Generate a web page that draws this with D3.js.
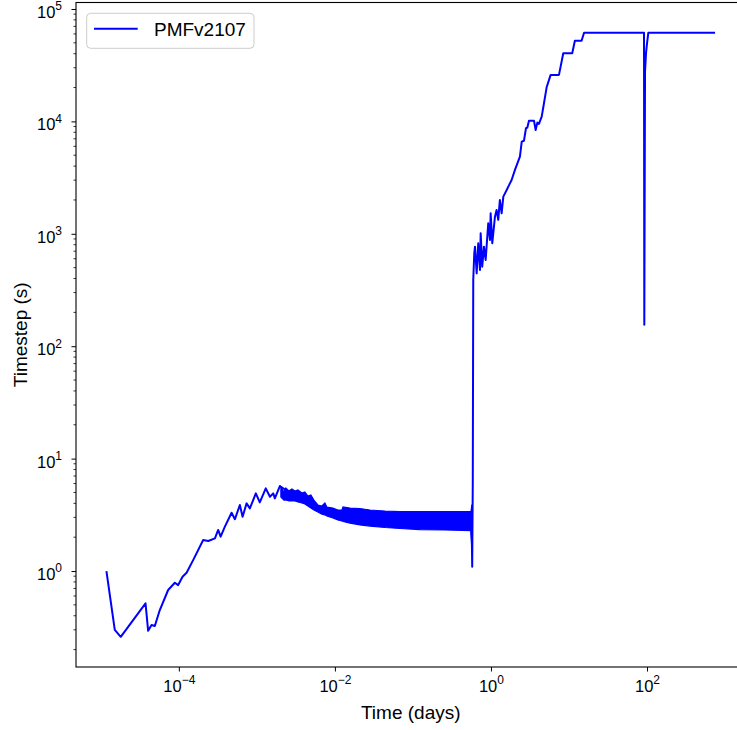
<!DOCTYPE html>
<html>
<head>
<meta charset="utf-8">
<script src="https://cdn.jsdelivr.net/npm/d3@7"></script>
<style>
  body { margin: 0; background: #fff; }
  svg { display: block; font-family: "Liberation Sans", Arial, sans-serif; }
</style>
</head>
<body>
<div id="chart"></div>
<script>
// PMFv2107 timestep history
const seriesName = "PMFv2107";

// main trace: time (days) / timestep (s)
const timeDays = [
  1.18e-5, 1.51e-5, 1.80e-5, 3.74e-5, 4.04e-5, 4.47e-5, 4.92e-5, 5.70e-5, 7.29e-5, 8.89e-5,
  9.80e-5, 1.115e-4, 1.256e-4, 1.525e-4, 2.05e-4, 2.38e-4, 2.90e-4, 3.19e-4, 3.43e-4, 3.89e-4,
  4.74e-4, 5.23e-4, 6.05e-4, 6.56e-4, 7.38e-4, 8.13e-4, 9.70e-4, 1.09e-3, 1.30e-3, 1.47e-3,
  1.62e-3, 1.70e-3, 1.97e-3,
  3.0e-3, 6.8e-3, 1.3e-2, 3.0e-2, 0.1, 0.3, 0.55, 0.570,
  0.575, 0.585, 0.593, 0.611, 0.624, 0.656, 0.687, 0.723, 0.738, 0.773,
  0.813, 0.855, 0.923, 0.971, 0.991, 1.04, 1.125, 1.18, 1.24, 1.30,
  1.37, 1.44, 1.59, 1.75, 1.84, 2.03, 2.35, 2.48, 2.65, 2.81,
  2.92, 3.07, 3.56, 3.74, 3.93, 4.12, 4.47, 4.78, 5.17, 5.82,
  7.44, 8.45, 11.0, 11.9, 14.5, 15.6, 91.5, 92.3, 94.3, 97.1,
  100, 104, 745
];
const timestep = [
  1.0, 0.30, 0.26, 0.516, 0.294, 0.331, 0.324, 0.45, 0.678, 0.787,
  0.75, 0.89, 0.966, 1.25, 1.89, 1.85, 1.95, 2.32, 2.02, 2.48,
  3.30, 2.89, 3.87, 3.04, 4.0, 3.61, 4.91, 4.08, 5.44, 4.58,
  4.91, 4.43, 5.70,
  4.7, 3.6, 3.1, 2.9, 2.85, 2.8, 2.8, 1.7,
  1.09, 6.45, 388, 670, 768, 445, 824, 476, 1010, 510,
  768, 585, 1240, 881, 1520, 824, 1420, 1630, 1330, 2000,
  1520, 2140, 2450, 2810, 3010, 3700, 4850, 6600, 6730, 8690,
  8790, 10140, 10140, 8390, 9750, 9490, 11020, 14500, 20100, 25900,
  25900, 40400, 40400, 52200, 52200, 61500, 61500, 155, 27700, 40400,
  49500, 61500, 61500
];

// dense oscillation band: upper / lower envelope of the trace
const bandTime = [
  2.03e-3, 2.22e-3, 2.35e-3, 2.57e-3, 2.81e-3, 3.07e-3, 3.36e-3, 3.78e-3, 4.12e-3, 4.51e-3,
  4.92e-3, 5.38e-3, 6.05e-3, 6.81e-3, 7.44e-3, 7.89e-3, 9.42e-3, 1.09e-2, 1.23e-2, 1.27e-2,
  1.56e-2, 2.09e-2, 2.81e-2, 4.38e-2, 6.81e-2, 0.123, 0.257, 0.554, 0.570
];
const bandHigh = [
  5.59, 5.05, 5.47, 5.15, 5.37, 5.15, 5.26, 4.94, 5.05, 4.65,
  4.75, 4.28, 3.87, 3.79, 4.03, 3.71, 3.63, 3.49, 3.49, 3.71,
  3.63, 3.60, 3.49, 3.42, 3.38, 3.37, 3.37, 3.37, 3.9
];
const bandLow = [
  4.55, 4.28, 4.28, 4.20, 4.20, 4.20, 4.11, 4.03, 3.95, 3.79,
  3.63, 3.49, 3.35, 3.21, 3.15, 3.09, 2.96, 2.85, 2.79, 2.76,
  2.67, 2.57, 2.51, 2.44, 2.39, 2.34, 2.32, 2.29, 1.70
];

const xTickValues = [1e-4, 1e-2, 1, 1e2];
const yTickValues = [1, 10, 100, 1e3, 1e4, 1e5];

const W = 737, H = 730;
const plot = { left: 76, right: 745.5, top: 2.5, bottom: 667 };

// matplotlib-style 5% padding in log space
function logPad(ext) {
  const a = Math.log10(ext[0]), b = Math.log10(ext[1]), d = (b - a) * 0.05;
  return [Math.pow(10, a - d), Math.pow(10, b + d)];
}

const x = d3.scaleLog()
    .domain(logPad(d3.extent(timeDays.concat(bandTime))))
    .range([plot.left, plot.right]);

const y = d3.scaleLog()
    .domain(logPad(d3.extent(timestep.concat(bandHigh, bandLow))))
    .range([plot.bottom, plot.top]);

const svg = d3.select("#chart").append("svg")
    .attr("width", W)
    .attr("height", H);

const clip = svg.append("clipPath").attr("id", "clip")
  .append("rect")
    .attr("x", plot.left).attr("y", plot.top)
    .attr("width", plot.right - plot.left)
    .attr("height", plot.bottom - plot.top);

// superscript label "10^n"
function powLabel(sel, v) {
  const e = Math.round(Math.log10(v));
  sel.text("10");
  sel.append("tspan")
      .attr("dy", -7.5)
      .attr("font-size", 12)
      .text(String(e).replace("-", "\u2212"));
}

// x axis
const gx = svg.append("g")
    .attr("transform", "translate(0," + plot.bottom + ")")
    .call(d3.axisBottom(x).tickValues(xTickValues).tickSize(4.5).tickSizeOuter(0));
gx.select(".domain").remove();
gx.attr("font-family", null).attr("font-size", null);
gx.selectAll(".tick line").attr("stroke", "#000").attr("stroke-width", 1);
gx.selectAll(".tick text")
    .attr("y", 24.5).attr("dy", null)
    .attr("fill", "#000").attr("font-size", 16.5)
    .each(function(d) { powLabel(d3.select(this), d); });

// y axis
const gy = svg.append("g")
    .attr("transform", "translate(" + plot.left + ",0)")
    .call(d3.axisLeft(y).tickValues(yTickValues).tickSize(4.5).tickSizeOuter(0));
gy.select(".domain").remove();
gy.attr("font-family", null).attr("font-size", null);
gy.selectAll(".tick line").attr("stroke", "#000").attr("stroke-width", 1);
gy.selectAll(".tick text")
    .attr("x", -14).attr("y", 8.4).attr("dy", null)
    .attr("fill", "#000").attr("font-size", 16.5)
    .each(function(d) { powLabel(d3.select(this), d); });

// y minor ticks
const yMinor = y.ticks().filter(v => Math.abs(Math.log10(v) - Math.round(Math.log10(v))) > 1e-6);
svg.append("g").selectAll("line")
  .data(yMinor)
  .join("line")
    .attr("x1", plot.left - 2.5).attr("x2", plot.left)
    .attr("y1", d => y(d)).attr("y2", d => y(d))
    .attr("stroke", "#000").attr("stroke-width", 0.8);

// data
const g = svg.append("g").attr("clip-path", "url(#clip)");

const bandData = bandTime.map((t, i) => ({ t: t, hi: bandHigh[i], lo: bandLow[i] }));
g.append("path")
    .datum(bandData)
    .attr("fill", "#0000ff")
    .attr("stroke", "#0000ff")
    .attr("stroke-width", 1.2)
    .attr("d", d3.area().x(d => x(d.t)).y0(d => y(d.lo)).y1(d => y(d.hi)));

g.append("path")
    .datum(timeDays.map((t, i) => [t, timestep[i]]))
    .attr("fill", "none")
    .attr("stroke", "#0000ff")
    .attr("stroke-width", 2)
    .attr("stroke-linejoin", "round")
    .attr("d", d3.line().x(d => x(d[0])).y(d => y(d[1])));

// frame
svg.append("rect")
    .attr("x", plot.left).attr("y", plot.top)
    .attr("width", plot.right - plot.left)
    .attr("height", plot.bottom - plot.top)
    .attr("fill", "none")
    .attr("stroke", "#000")
    .attr("stroke-width", 1.1);

// axis labels
svg.append("text")
    .attr("x", (plot.left + plot.right) / 2)
    .attr("y", 719)
    .attr("text-anchor", "middle")
    .attr("font-size", 19)
    .text("Time (days)");

svg.append("text")
    .attr("transform", "translate(27," + (plot.top + plot.bottom) / 2 + ") rotate(-90)")
    .attr("text-anchor", "middle")
    .attr("font-size", 19)
    .text("Timestep (s)");

// legend
const lg = svg.append("g");
lg.append("rect")
    .attr("x", 86.7).attr("y", 13.3)
    .attr("width", 167.3).attr("height", 35)
    .attr("rx", 4)
    .attr("fill", "#fff").attr("fill-opacity", 0.8)
    .attr("stroke", "#cccccc");
lg.append("line")
    .attr("x1", 94).attr("x2", 137.7)
    .attr("y1", 28.8).attr("y2", 28.8)
    .attr("stroke", "#0000ff").attr("stroke-width", 2);
lg.append("text")
    .attr("x", 154).attr("y", 36)
    .attr("font-size", 19)
    .text(seriesName);
</script>
</body>
</html>
